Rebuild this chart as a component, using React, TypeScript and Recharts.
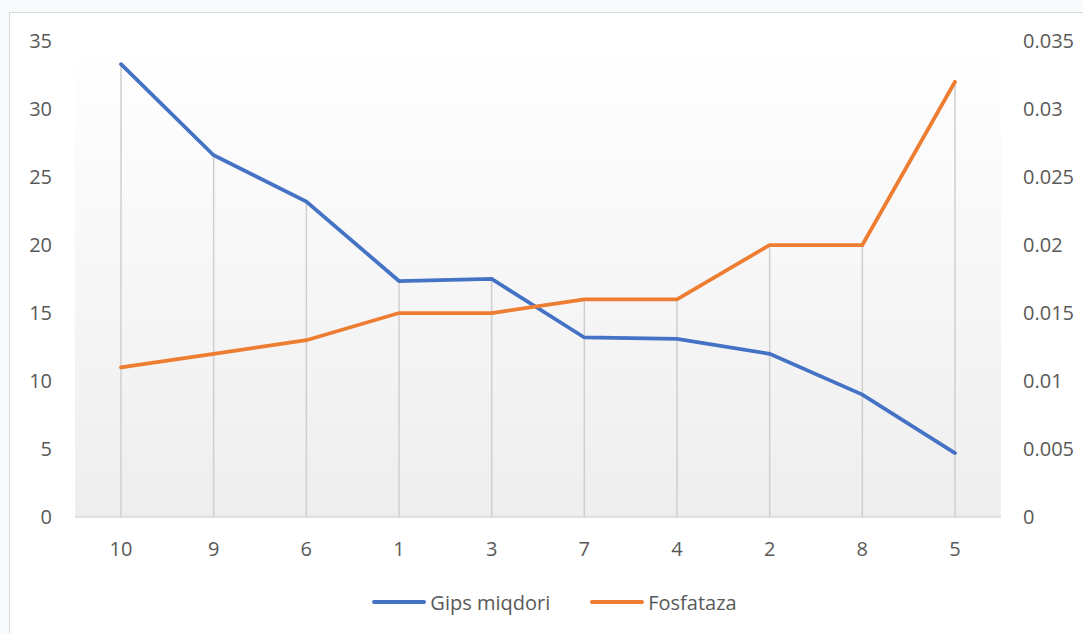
import React from 'react';
import { LineChart, Line, XAxis, YAxis, CartesianGrid, Legend, ReferenceLine } from 'recharts';

const categories = ['10', '9', '6', '1', '3', '7', '4', '2', '8', '5'];
const gipsMiqdori = [33.3, 26.6, 23.2, 17.35, 17.5, 13.2, 13.1, 12.0, 9.0, 4.7];
const fosfataza = [0.011, 0.012, 0.013, 0.015, 0.015, 0.016, 0.016, 0.02, 0.02, 0.032];
const leftTicks = [0, 5, 10, 15, 20, 25, 30, 35];
const rightTicks = [0, 0.005, 0.01, 0.015, 0.02, 0.025, 0.03, 0.035];

const data = categories.map((c, i) => ({ name: c, gips: gipsMiqdori[i], fosf: fosfataza[i] }));
// drop line top: the higher of the two series (right axis scaled to left axis)
const dropTops = categories.map((c, i) => Math.max(gipsMiqdori[i], fosfataza[i] * 1000));

const FONT = '"Open Sans", "Noto Sans", sans-serif';
const tickStyle = { fill: '#595959', fontSize: 20, fontFamily: FONT };

const renderLegend = () => (
  <div style={{ display: 'flex', justifyContent: 'center', alignItems: 'center', gap: 40, paddingLeft: 26, fontFamily: FONT, fontSize: 20, color: '#595959', height: 30 }}>
    <span style={{ display: 'flex', alignItems: 'center' }}>
      <span style={{ display: 'inline-block', width: 54, height: 4, background: '#4472C4', borderRadius: 2, marginRight: 4 }} />
      Gips miqdori
    </span>
    <span style={{ display: 'flex', alignItems: 'center' }}>
      <span style={{ display: 'inline-block', width: 54, height: 4, background: '#ED7D31', borderRadius: 2, marginRight: 4 }} />
      Fosfataza
    </span>
  </div>
);

export default function App() {
  return (
    <div style={{ position: 'fixed', left: 0, top: 0, width: 1083, height: 633, background: '#f7fbfb', overflow: 'hidden' }}>
      <div style={{ position: 'absolute', left: 9, top: 12, width: 1200, height: 700, background: '#ffffff', border: '1px solid #d9d9d9' }} />
      <div style={{ position: 'absolute', left: 0, top: 0 }}>
        <LineChart width={1083} height={633} data={data} margin={{ top: 41, right: 0, left: 0, bottom: 46 }}>
          <defs>
            <linearGradient id="plotBg" x1="0" y1="0" x2="0" y2="1">
              <stop offset="0%" stopColor="#ffffff" />
              <stop offset="100%" stopColor="#eeeeee" />
            </linearGradient>
          </defs>
          <CartesianGrid horizontal={false} vertical={false} fill="url(#plotBg)" stroke="none" />
          <XAxis
            dataKey="name"
            height={40}
            tickLine={false}
            axisLine={{ stroke: '#d9d9d9', strokeWidth: 1.5 }}
            tick={tickStyle}
            tickMargin={19}
            interval={0}
            padding={{ left: 46, right: 46 }}
          />
          <YAxis
            yAxisId="left"
            orientation="left"
            width={75}
            domain={[0, 35]}
            ticks={leftTicks}
            tickLine={false}
            axisLine={false}
            tick={tickStyle}
            tickMargin={17}
          />
          <YAxis
            yAxisId="right"
            orientation="right"
            width={82}
            domain={[0, 0.035]}
            ticks={rightTicks}
            tickLine={false}
            axisLine={false}
            tick={{ ...tickStyle, textAnchor: 'start' }}
            tickMargin={16}
          />
          {categories.map((c, i) => (
            <ReferenceLine
              key={c}
              yAxisId="left"
              segment={[{ x: c, y: 0 }, { x: c, y: dropTops[i] }]}
              stroke="#cfcfcf"
              strokeWidth={1.5}
            />
          ))}
          <Line yAxisId="left" type="linear" dataKey="gips" name="Gips miqdori" stroke="#4472C4" strokeWidth={3.75} dot={false} isAnimationActive={false} strokeLinecap="round" />
          <Line yAxisId="right" type="linear" dataKey="fosf" name="Fosfataza" stroke="#ED7D31" strokeWidth={3.75} dot={false} isAnimationActive={false} strokeLinecap="round" />
          <Legend verticalAlign="bottom" content={renderLegend} wrapperStyle={{ top: 587, height: 30, left: 0, width: 1083 }} />
        </LineChart>
      </div>
    </div>
  );
}
